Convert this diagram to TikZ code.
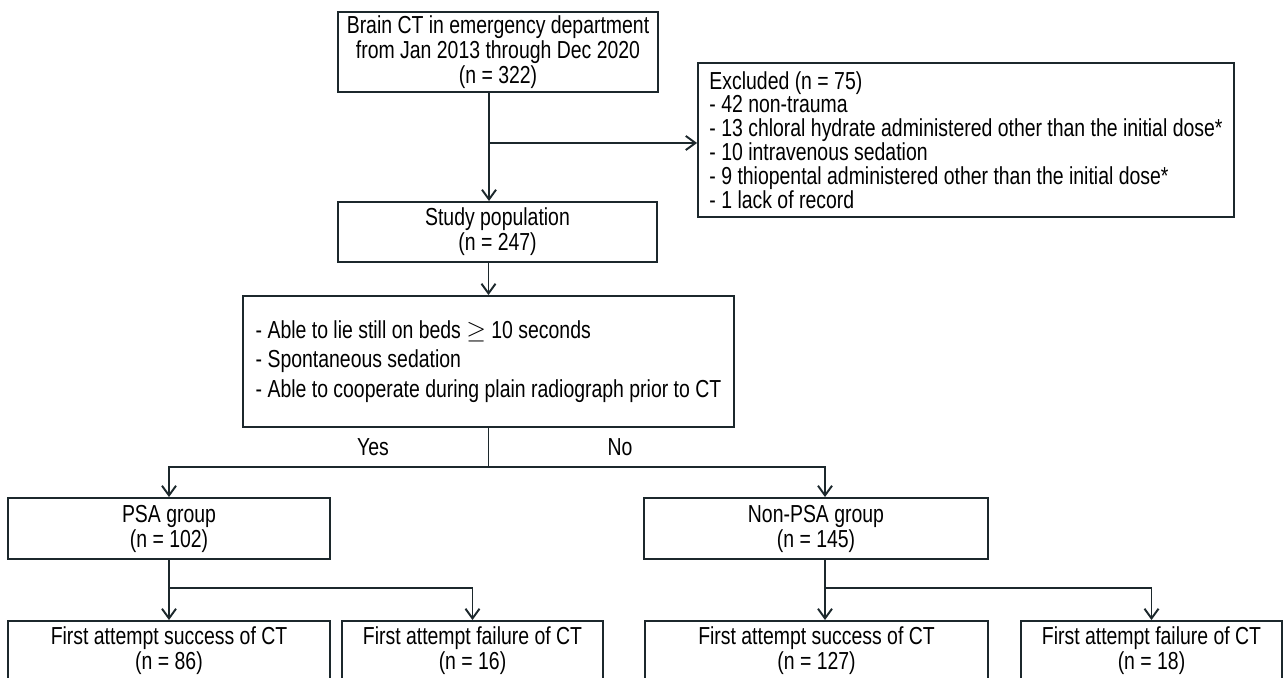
\documentclass[tikz,border=0pt]{standalone}
\usepackage{fontspec}
\setmainfont{Liberation Sans}[FakeStretch=0.79]
\usepackage{amsmath}
\usetikzlibrary{arrows.meta,positioning,calc}
\definecolor{boxline}{RGB}{28,40,44}
\tikzset{%
    flowbox/.style={%
        rectangle, draw=boxline, line width=1.1pt, align=center, inner sep=0pt, font={\fontsize{14}{14.2}\selectfont}
    },
    listbox/.style={%
        flowbox, align=left, font={\fontsize{14}{13.6}\selectfont}
    },
    flow/.style={%
        draw=boxline, line width=1.1pt, -{Straight Barb[length=5.5pt,width=8pt]}
    },
    branch/.style={%
        draw=boxline, line width=1.1pt
    },
    answer/.style={%
        font={\fontsize{14}{14.2}\selectfont}
    },
}
\begin{document}
\begin{tikzpicture}[x=0.02cm, y=-0.02cm]
      \useasboundingbox (0,0) rectangle (1284,678);
      \clip (0,0) rectangle (1284,678);
      \node[flowbox, minimum width=6.4cm, minimum height=1.6cm] (ct) at (498,52) {Brain CT in emergency department\\from Jan 2013 through Dec 2020\\(n = 322)};
      \node[listbox, minimum width=10.72cm, minimum height=3.08cm] (excl) at (966,140) {Excluded (n = 75)\\- 42 non-trauma\\- 13 chloral hydrate administered other than the initial dose*\\- 10 intravenous sedation\\- 9 thiopental administered other than the initial dose*\\- 1 lack of record};
      \node[flowbox, minimum width=6.38cm, minimum height=1.2cm] (study) at (497.5,232) {Study population\\(n = 247)};
      \node[listbox, minimum width=9.82cm, minimum height=2.62cm, font={\fontsize{14}{16.8}\selectfont}] (crit) at (488.5,361.5) {- Able to lie still on beds $\geq$ 10 seconds\\- Spontaneous sedation\\- Able to cooperate during plain radiograph prior to CT};
      \node[answer] (yes) at (373,447) {Yes};
      \node[answer] (no) at (620,447) {No};
      \node[flowbox, minimum width=6.44cm, minimum height=1.22cm] (psa) at (169,528.5) {PSA group\\(n = 102)};
      \node[flowbox, minimum width=6.88cm, minimum height=1.22cm] (nonpsa) at (816,528.5) {Non-PSA group\\(n = 145)};
      \node[flowbox, minimum width=6.44cm, minimum height=1.2cm] (psas) at (169,651) {First attempt success of CT\\(n = 86)};
      \node[flowbox, minimum width=5.22cm, minimum height=1.2cm] (psaf) at (472.5,651) {First attempt failure of CT\\(n = 16)};
      \node[flowbox, minimum width=6.86cm, minimum height=1.2cm] (nons) at (816.5,651) {First attempt success of CT\\(n = 127)};
      \node[flowbox, minimum width=5.22cm, minimum height=1.2cm] (nonf) at (1151.5,651) {First attempt failure of CT\\(n = 18)};

      \coordinate (split) at (489,143);
      \coordinate (fork) at (488.5,467);
      \coordinate (psafork) at (169,588);
      \coordinate (nonfork) at (825,588);

      \draw[flow] (ct.south -| split) -- (study.north -| split);
      \draw[flow] (split) -- (split -| excl.west);
      \draw[flow] (study.south -| crit.north) -- (crit.north);
      \draw[branch] (crit.south) -- (fork);
      \draw[flow] (fork) -| (psa.north);
      \draw[flow] (fork) -| ($(nonpsa.north)+(9,0)$);
      \draw[flow] (psa.south) -- (psas.north);
      \draw[flow] (psafork) -| (psaf.north);
      \draw[flow] ($(nonpsa.south)+(9,0)$) -- ($(nons.north)+(8.5,0)$);
      \draw[flow] (nonfork) -| (nonf.north);
    \end{tikzpicture}
\end{document}
